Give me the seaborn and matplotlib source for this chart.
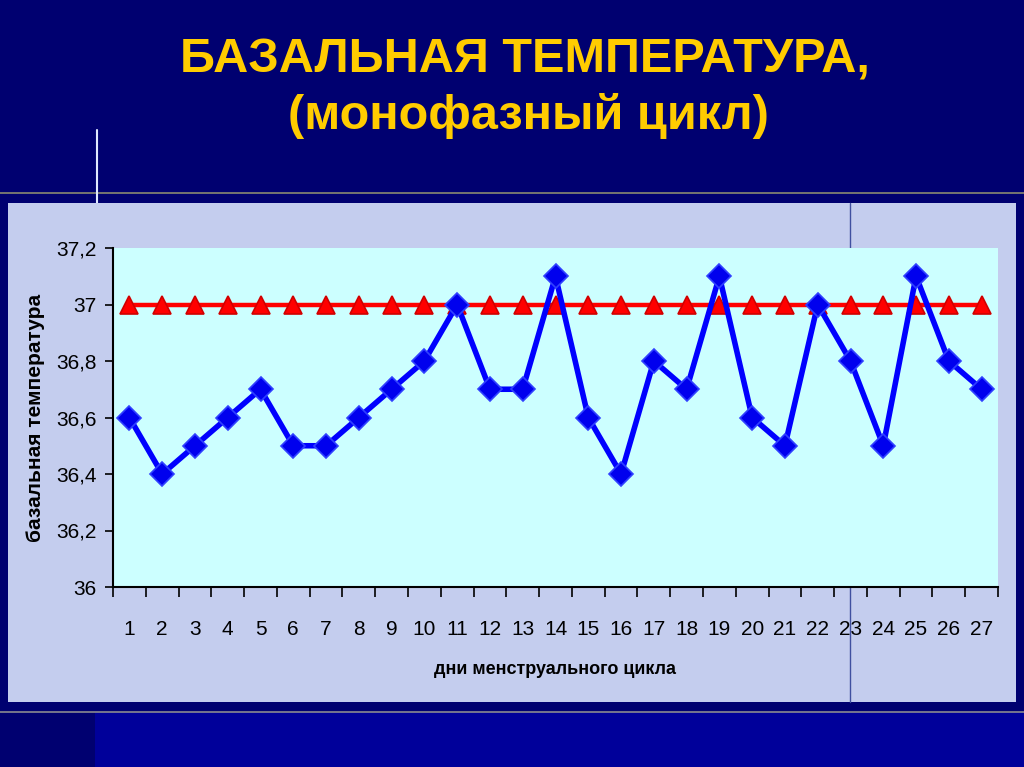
import matplotlib
matplotlib.use("Agg")
import matplotlib.pyplot as plt
from matplotlib.patches import Rectangle
from matplotlib.lines import Line2D
import seaborn as sns
import pandas as pd

days = list(range(1, 28))
temps = [36.6, 36.4, 36.5, 36.6, 36.7, 36.5, 36.5, 36.6, 36.7, 36.8,
         37.0, 36.7, 36.7, 37.1, 36.6, 36.4, 36.8, 36.7, 37.1, 36.6,
         36.5, 37.0, 36.8, 36.5, 37.1, 36.8, 36.7]
reference = [37.0] * 27
y_ticks = [36.0, 36.2, 36.4, 36.6, 36.8, 37.0, 37.2]
y_tick_labels = ["36", "36,2", "36,4", "36,6", "36,8", "37", "37,2"]
title_line1 = "БАЗАЛЬНАЯ ТЕМПЕРАТУРА,"
title_line2 = "(монофазный цикл)"
x_label = "дни менструального цикла"
y_label = "базальная температура"

sns.set_style("white")
narrow = ["Liberation Sans Narrow", "Liberation Sans", "DejaVu Sans"]
plt.rcParams["font.family"] = ["Liberation Sans", "DejaVu Sans"]

fig = plt.figure(figsize=(10.24, 7.67), dpi=100)
fig.patch.set_facecolor("#000070")

W, H = 1024, 767
def fx(px): return px / W
def fy(py): return 1 - py / H

# bottom strip
fig.patches.append(Rectangle((fx(95), 0), fx(929), fy(712), transform=fig.transFigure,
                             facecolor="#00009a", edgecolor="none", zorder=0))
# separator lines
fig.lines.append(Line2D([0, 1], [fy(193), fy(193)], transform=fig.transFigure,
                        color="#8a8a70", lw=1.2, zorder=1))
fig.lines.append(Line2D([0, 1], [fy(712), fy(712)], transform=fig.transFigure,
                        color="#8a8a90", lw=1.2, zorder=1))
fig.lines.append(Line2D([fx(97), fx(97)], [fy(130), fy(203)], transform=fig.transFigure,
                        color="#e0e8ff", lw=1.5, zorder=1))
# chart panel
fig.patches.append(Rectangle((fx(8), fy(702)), fx(1008), fy(203) - fy(702),
                             transform=fig.transFigure, facecolor="#c4cdee",
                             edgecolor="none", zorder=1))
fig.lines.append(Line2D([fx(850), fx(850)], [fy(702), fy(203)], transform=fig.transFigure,
                        color="#4050a0", lw=1.0, zorder=2))

fig.text(fx(525), fy(60), title_line1, ha="center", va="center", color="#ffcc00",
         fontsize=35, fontweight="bold")
fig.text(fx(528), fy(116), title_line2, ha="center", va="center", color="#ffcc00",
         fontsize=35, fontweight="bold")

ax = fig.add_axes([fx(113), fy(587), fx(998) - fx(113), fy(248) - fy(587)])
ax.set_facecolor("#ccffff")
ax.set_zorder(3)

df = pd.DataFrame({"day": days, "temp": temps, "ref": reference})
sns.lineplot(data=df, x="day", y="ref", ax=ax, color="#ff0000", lw=3.2,
             marker="^", markersize=13, markerfacecolor="#ff0000",
             markeredgecolor="#d00000", markeredgewidth=1.2, zorder=3)
sns.lineplot(data=df, x="day", y="temp", ax=ax, color="#0000ff", lw=4,
             marker="D", markersize=12, markerfacecolor="#0000ee",
             markeredgecolor="#3040ff", markeredgewidth=1.2, zorder=4)

ax.set_xlim(0.5, 27.5)
ax.set_ylim(36.0, 37.2)
ax.set_xticks(days)
ax.set_xticklabels([str(d) for d in days], family=narrow, fontsize=15)
ax.set_xticks([d + 0.5 for d in range(0, 28)], minor=True)
ax.tick_params(axis="x", which="major", length=0, pad=24, colors="black")
ax.tick_params(axis="x", which="minor", length=7, width=1.2, direction="out",
               bottom=True, color="black")
ax.set_yticks(y_ticks)
ax.set_yticklabels(y_tick_labels, family=narrow, fontsize=15)
ax.tick_params(axis="y", which="major", length=6, width=1.2, direction="out",
               left=True, pad=6, colors="black")

for s in ["top", "right"]:
    ax.spines[s].set_visible(False)
for s in ["left", "bottom"]:
    ax.spines[s].set_visible(True)
    ax.spines[s].set_color("black")
    ax.spines[s].set_linewidth(1.5)

ax.set_xlabel(x_label, family=narrow, fontsize=13, fontweight="bold", color="black")
ax.set_ylabel(y_label, fontsize=15, fontweight="bold", color="black")
ax.xaxis.set_label_coords((555 - 113) / (998 - 113), -(661 - 587) / (587 - 248))
ax.yaxis.set_label_coords(-(113 - 45) / (998 - 113), (587 - 418) / (587 - 248))

fig.savefig("out.png", dpi=100, facecolor=fig.get_facecolor())
